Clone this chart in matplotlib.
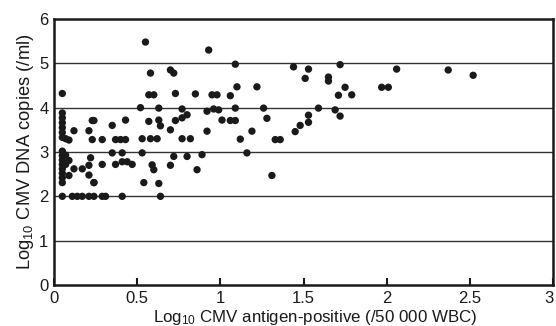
import matplotlib
matplotlib.use("Agg")
import matplotlib.pyplot as plt
from matplotlib.transforms import ScaledTranslation

plt.rcParams['font.family'] = ['Liberation Sans', 'DejaVu Sans']
plt.rcParams['mathtext.fontset'] = 'custom'
plt.rcParams['mathtext.rm'] = 'Liberation Sans'
plt.rcParams['mathtext.it'] = 'Liberation Sans'

# Log10 CMV antigen-positive cells (x) vs Log10 CMV DNA copies (y)
antigen = [
    # x ~ 0.05 column
    0.05, 0.05, 0.05, 0.05, 0.05, 0.05, 0.05, 0.05, 0.05, 0.05, 0.05, 0.05, 0.05, 0.05, 0.05,
    0.07, 0.07, 0.07, 0.09, 0.09, 0.09, 0.12, 0.12,
    # low-left cluster
    0.17, 0.21, 0.22, 0.21, 0.24, 0.21, 0.23, 0.24, 0.35, 0.43,
    0.23, 0.29, 0.37, 0.40, 0.43, 0.35, 0.41, 0.29, 0.37, 0.41, 0.44, 0.47, 0.24,
    # y = 2 row
    0.05, 0.11, 0.14, 0.17, 0.21, 0.24, 0.29, 0.31, 0.41, 0.64,
    # middle
    0.55, 0.93, 1.09, 0.58, 0.70, 0.72, 0.57, 0.60, 0.73, 0.85, 0.95, 0.98, 1.06, 1.10, 1.22,
    0.52, 0.63, 0.77, 0.80, 0.77, 0.73, 0.92, 0.96, 0.99, 1.09, 1.01, 1.06, 1.09,
    0.57, 0.63, 0.64, 0.70, 0.92, 1.26, 1.28, 1.19, 1.12, 1.33, 1.36, 1.16, 1.31,
    0.53, 0.58, 0.62, 0.77, 0.82, 0.53, 0.72, 0.80, 0.89, 0.59, 0.60, 0.70, 0.86, 0.54, 0.63,
    # right group
    1.44, 1.53, 1.51, 1.65, 1.65, 1.72, 1.75, 1.71, 1.79, 1.59, 1.69, 1.72, 1.53, 1.53, 1.48, 1.45,
    1.97, 2.01, 2.06, 2.37, 2.52,
]
dna = [
    4.32, 3.88, 3.77, 3.66, 3.55, 3.44, 3.33, 3.02, 2.92, 2.82, 2.72, 2.62, 2.52, 2.42, 2.31,
    3.30, 2.93, 2.72, 3.27, 2.81, 2.47, 3.48, 2.62,
    2.62, 2.70, 2.87, 2.48, 2.31, 3.48, 3.71, 3.71, 3.60, 3.72,
    3.28, 3.28, 3.28, 3.28, 3.28, 2.98, 2.98, 2.72, 2.72, 2.78, 2.78, 2.72, 2.31,
    2.0, 2.0, 2.0, 2.0, 2.0, 2.0, 2.0, 2.0, 2.0, 2.0,
    5.48, 5.30, 4.98, 4.78, 4.85, 4.78, 4.29, 4.29, 4.32, 4.31, 4.29, 4.29, 4.27, 4.47, 4.47,
    4.00, 3.99, 3.97, 3.84, 3.77, 3.71, 3.92, 3.97, 3.95, 3.99, 3.72, 3.71, 3.71,
    3.69, 3.72, 3.59, 3.50, 3.47, 3.99, 3.76, 3.47, 3.29, 3.28, 3.28, 2.98, 2.47,
    3.30, 3.30, 3.30, 3.30, 3.30, 2.98, 2.90, 2.90, 2.94, 2.71, 2.60, 2.70, 2.60, 2.31, 2.29,
    4.92, 4.87, 4.66, 4.69, 4.60, 4.97, 4.46, 4.28, 4.29, 3.99, 3.95, 3.81, 3.83, 3.67, 3.60, 3.46,
    4.46, 4.46, 4.87, 4.85, 4.73,
]

x_ticks = [0, 0.5, 1, 1.5, 2, 2.5, 3]
x_tick_labels = ['0', '0.5', '1', '1.5', '2', '2.5', '3']
y_ticks = [0, 1, 2, 3, 4, 5, 6]
y_tick_labels = ['0', '1', '2', '3', '4', '5', '6']

fig = plt.figure(figsize=(5.56, 3.26), dpi=100)
ax = fig.add_axes([54/556, 41/326, 499/556, 266/326])

for yv in [1, 2, 3, 4, 5]:
    ax.axhline(yv, color='#333333', lw=1.0, zorder=1)

ax.scatter(antigen, dna, s=28, color='#1a1a1a', edgecolors='none', zorder=3)

ax.set_xlim(0, 3)
ax.set_ylim(0, 6)
ax.set_xticks(x_ticks)
ax.set_xticklabels(x_tick_labels)
ax.set_yticks(y_ticks)
ax.set_yticklabels(y_tick_labels)
ax.tick_params(axis='x', direction='in', length=5, width=1.5, labelsize=12, pad=4.5, colors='#1a1a1a')
ax.tick_params(axis='y', length=0, labelsize=12, pad=4, colors='#1a1a1a')
for sp in ax.spines.values():
    sp.set_linewidth(1.8)
    sp.set_color('#1a1a1a')

# keep the last x tick label inside the canvas
last = ax.get_xticklabels()[-1]
last.set_transform(last.get_transform() + ScaledTranslation(-4/100, 0, fig.dpi_scale_trans))

ax.set_xlabel('Log$_{10}$ CMV antigen-positive (/50 000 WBC)', fontsize=12.2, labelpad=0, color='#1a1a1a')
ax.xaxis.set_label_coords(0.523, -0.085)
ax.xaxis.label.set_va('top')
ax.set_ylabel('Log$_{10}$ CMV DNA copies (/ml)', fontsize=13.2, labelpad=2, color='#1a1a1a')

fig.savefig('out.png', dpi=100)
